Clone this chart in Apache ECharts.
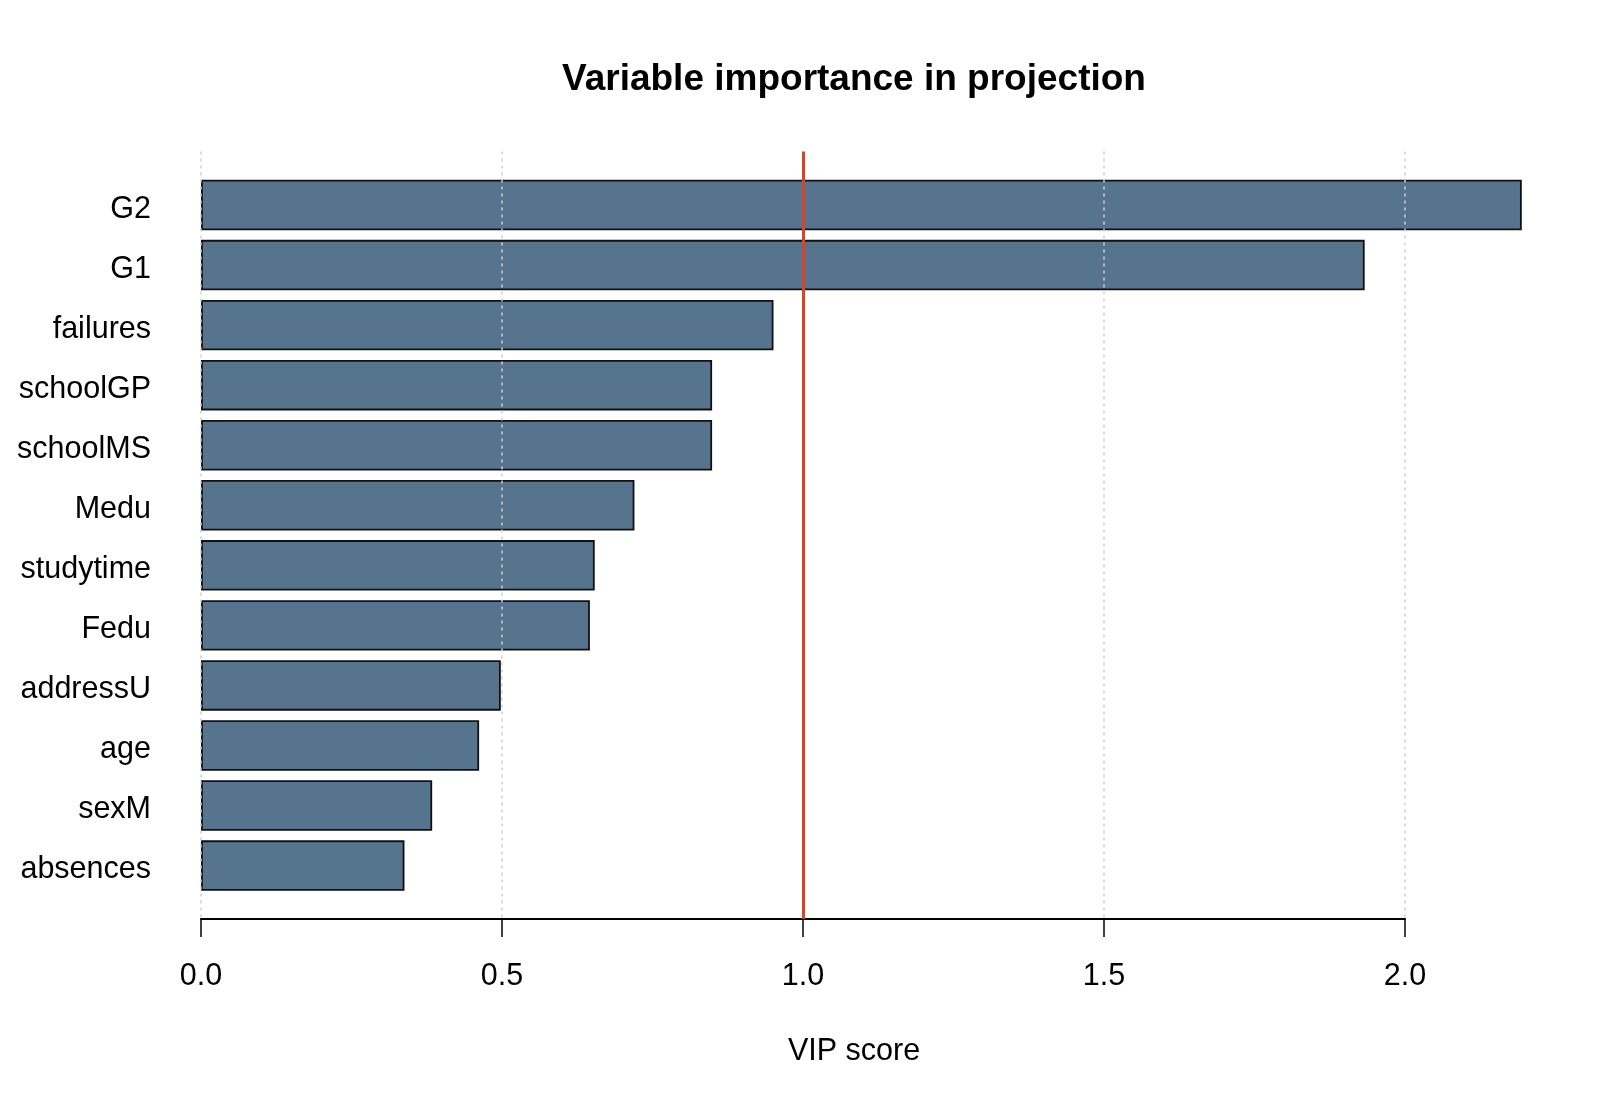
<!DOCTYPE html>
<html>
<head>
<meta charset="utf-8">
<title>Variable importance in projection</title>
<script src="https://cdn.jsdelivr.net/npm/echarts@6/dist/echarts.min.js"></script>
<style>
  html, body { margin: 0; padding: 0; background: #fff; }
  #main { width: 1600px; height: 1108px; }
</style>
</head>
<body>
<div id="main"></div>
<script>
// VIP scores, top to bottom as in the plot
var variables = ['G2', 'G1', 'failures', 'schoolGP', 'schoolMS', 'Medu',
                 'studytime', 'Fedu', 'addressU', 'age', 'sexM', 'absences'];
var vipScores = [2.194, 1.933, 0.951, 0.849, 0.849, 0.720,
                 0.654, 0.646, 0.498, 0.462, 0.384, 0.338];
var xTicks = [0, 0.5, 1.0, 1.5, 2.0];
var threshold = 1.0;

var FONT = '"Liberation Sans", Arial, sans-serif';

var myChart = echarts.init(document.getElementById('main'), null, {renderer: 'canvas'});

var option = {
    "animation": false,
    "backgroundColor": "#ffffff",
    "title": [
        {
            "text": "Variable importance in projection",
            "left": 849,
            "top": 56,
            "textAlign": "center",
            "textStyle": {
                "fontFamily": FONT,
                "fontSize": 37,
                "fontWeight": "bold",
                "color": "#000"
            }
        },
        {
            "text": "VIP score",
            "left": 849,
            "top": 1031,
            "textAlign": "center",
            "textStyle": {
                "fontFamily": FONT,
                "fontSize": 30.5,
                "fontWeight": "normal",
                "color": "#000"
            }
        }
    ],
    "grid": [
        // bars
        {"left": 201, "right": 195, "top": 175, "bottom": 212.4},
        // frame: grid lines, x axis, threshold line
        {"left": 201, "right": 195, "top": 151.6, "bottom": 189}
    ],
    "xAxis": [
        {
            "type": "value",
            "gridIndex": 0,
            "min": 0,
            "max": xTicks[xTicks.length - 1],
            "show": false
        },
        {
            "type": "value",
            "gridIndex": 1,
            "min": xTicks[0],
            "max": xTicks[xTicks.length - 1],
            "interval": 0.5,
            "z": 3,
            "axisLine": {"show": true, "lineStyle": {"color": "#000", "width": 2}},
            "axisTick": {"show": true, "length": 18, "lineStyle": {"color": "#000", "width": 1.5}},
            "axisLabel": {
                "margin": 42,
                "fontFamily": FONT,
                "fontSize": 30.5,
                "lineHeight": 31,
                "color": "#000",
                "formatter": function (v) { return v.toFixed(1); }
            },
            "splitLine": {
                "show": true,
                "lineStyle": {"color": "#cfcfcf", "width": 1.5, "type": [3, 4]}
            }
        }
    ],
    "yAxis": [
        {
            "type": "category",
            "gridIndex": 0,
            "inverse": true,
            "data": variables,
            "axisLine": {"show": false},
            "axisTick": {"show": false},
            "splitLine": {"show": false},
            "axisLabel": {
                "margin": 50,
                "formatter": function (v) { return '{a|' + v + '}'; },
                "rich": {
                    "a": {
                        "fontFamily": FONT,
                        "fontSize": 30.5,
                        "color": "#000",
                        "padding": [9, 0, 0, 0]
                    }
                }
            }
        },
        {
            "type": "value",
            "gridIndex": 1,
            "min": 0,
            "max": 1,
            "show": false
        }
    ],
    "series": [
        {
            "name": "VIP",
            "type": "bar",
            "xAxisIndex": 0,
            "yAxisIndex": 0,
            "data": vipScores,
            "barCategoryGap": "16%",
            "clip": false,
            "z": 2,
            "itemStyle": {
                "color": "#57748f",
                "borderColor": "#111",
                "borderWidth": 1.8
            }
        },
        {
            "name": "threshold",
            "type": "line",
            "xAxisIndex": 1,
            "yAxisIndex": 1,
            "data": [],
            "z": 2,
            "markLine": {
                "silent": true,
                "symbol": ["none", "none"],
                "label": {"show": false},
                "lineStyle": {"color": "#d6452a", "width": 3, "type": "solid"},
                "data": [{"xAxis": threshold}]
            }
        }
    ]
};
myChart.setOption(option);
</script>
</body>
</html>
